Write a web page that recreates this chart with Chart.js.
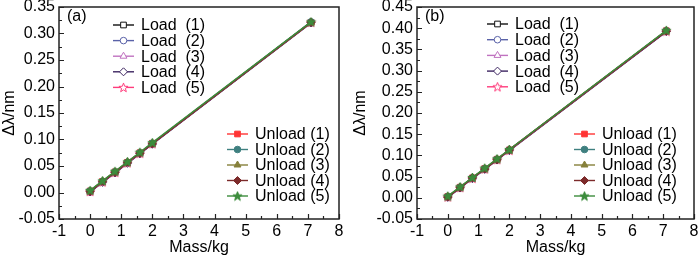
<!DOCTYPE html>
<html><head><meta charset="utf-8">
<script src="https://cdn.jsdelivr.net/npm/chart.js@4/dist/chart.umd.min.js"></script>
<style>
html,body{margin:0;padding:0;background:#fff}
#wrap{position:relative;width:700px;height:257px}
.c{position:absolute;top:0;width:350px;height:257px}
</style></head><body>
<div id="wrap">
<div class="c" style="left:0"><canvas id="ca" width="350" height="257"></canvas></div>
<div class="c" style="left:350px"><canvas id="cb" width="350" height="257"></canvas></div>
</div>
<script>
// ---- data ----
const massKg = [0, 0.4, 0.8, 1.2, 1.6, 2.0, 7.1];
const seriesNames = ['Load  (1)','Load  (2)','Load  (3)','Load  (4)','Load  (5)',
                     'Unload (1)','Unload (2)','Unload (3)','Unload (4)','Unload (5)'];
// panel (a) wavelength shift, nm
const loadA = [
  [0.002,0.020,0.038,0.056,0.074,0.092,0.321],
  [0.001,0.020,0.037,0.056,0.073,0.092,0.320],
  [0.002,0.021,0.038,0.057,0.074,0.093,0.321],
  [0.001,0.019,0.037,0.055,0.073,0.091,0.320],
  [0.002,0.020,0.038,0.056,0.074,0.092,0.321]
];
const unloadA = [
  [0.003,0.021,0.039,0.057,0.075,0.093,0.321],
  [0.003,0.021,0.039,0.057,0.075,0.093,0.322],
  [0.003,0.022,0.039,0.058,0.075,0.093,0.321],
  [0.002,0.021,0.038,0.057,0.074,0.092,0.321],
  [0.004,0.022,0.040,0.058,0.076,0.094,0.322]
];
// panel (b) wavelength shift, nm
const loadB = [
  [0.002,0.024,0.046,0.068,0.090,0.112,0.393],
  [0.001,0.023,0.046,0.067,0.089,0.112,0.392],
  [0.002,0.024,0.047,0.068,0.090,0.113,0.393],
  [0.001,0.023,0.045,0.067,0.089,0.111,0.392],
  [0.002,0.024,0.046,0.068,0.090,0.112,0.393]
];
const unloadB = [
  [0.003,0.025,0.047,0.069,0.091,0.113,0.394],
  [0.003,0.025,0.047,0.069,0.091,0.113,0.394],
  [0.003,0.025,0.048,0.069,0.091,0.114,0.394],
  [0.002,0.024,0.047,0.068,0.090,0.113,0.393],
  [0.004,0.026,0.048,0.070,0.092,0.114,0.395]
];
const yTicksA = {min:-0.05, max:0.35, step:0.05};
const yTicksB = {min:-0.05, max:0.45, step:0.05};
const xTicks = {min:-1, max:8, step:1};

// ---- styles ----
const FONT = "'Liberation Sans', Arial, sans-serif";
const FS = 16;
const colors = ['#111111','#5a62a8','#c072c0','#3c2460','#ff3c7c',
                '#ff3434','#3f8080','#86803a','#7c2a2a','#3c8c3c'];
function makeStar(fill, stroke){
  const c = document.createElement('canvas'); c.width = 11; c.height = 11;
  const g = c.getContext('2d'); g.beginPath();
  for(let i=0;i<10;i++){
    const r = i%2===0 ? 4.8 : 2.0; const a = -Math.PI/2 + i*Math.PI/5;
    const px = 5.5 + r*Math.cos(a), py = 5.9 + r*Math.sin(a);
    i===0 ? g.moveTo(px,py) : g.lineTo(px,py);
  }
  g.closePath(); g.fillStyle = fill; g.fill(); g.lineWidth = 1; g.strokeStyle = stroke; g.stroke();
  return c;
}
const styles = ['rect','circle','triangle','rectRot', makeStar('#ffffff', colors[4]),
                'rect','circle','triangle','rectRot', makeStar(colors[9], colors[9])];
const radii = [4,3.3,4,4,5,4,3.3,4,4,5];

function buildDatasets(load, unload){
  const all = load.concat(unload);
  return all.map((vals, i) => ({
    label: seriesNames[i],
    data: massKg.map((m, k) => ({x: m, y: vals[k]})),
    borderColor: colors[i],
    backgroundColor: i < 5 ? '#ffffff' : colors[i],
    pointBorderColor: colors[i],
    pointBackgroundColor: i < 5 ? '#ffffff' : colors[i],
    pointStyle: styles[i],
    pointRadius: radii[i],
    pointBorderWidth: 1,
    borderWidth: 1.4,
    tension: 0,
    order: 9 - i
  }));
}

const framePlugin = {
  id: 'frame',
  afterDatasetsDraw(chart, args, opts){
    const ctx = chart.ctx, a = chart.chartArea, xs = chart.scales.x, ys = chart.scales.y;
    ctx.save();
    ctx.strokeStyle = '#222'; ctx.lineWidth = 1.2;
    // inward ticks
    ctx.beginPath();
    for(let v = xs.min; v <= xs.max + 1e-9; v += 0.5){
      const px = Math.round(xs.getPixelForValue(v)) + 0.5;
      const major = Math.abs(v - Math.round(v)) < 1e-6;
      ctx.moveTo(px, a.bottom); ctx.lineTo(px, a.bottom - (major ? 5 : 3));
    }
    const st = opts.yStep/2;
    for(let i = 0; ys.min + i*st <= ys.max + 1e-9; i++){
      const v = ys.min + i*st;
      const py = Math.round(ys.getPixelForValue(v)) + 0.5;
      ctx.moveTo(a.left, py); ctx.lineTo(a.left + (i%2===0 ? 5 : 3), py);
    }
    ctx.stroke();
    ctx.lineWidth = 1.5; ctx.strokeStyle = '#222';
    ctx.strokeRect(a.left, a.top, a.right - a.left, a.bottom - a.top);
    // panel label
    ctx.fillStyle = '#000'; ctx.font = FS + 'px ' + FONT; ctx.textBaseline = 'middle';
    ctx.fillText(opts.panel, a.left + opts.panelDx, a.top + 10);
    // legends
    const metas = chart.data.datasets;
    opts.legends.forEach(L => {
      L.items.forEach((idx, r) => {
        const ds = metas[idx];
        const y = L.y + r * L.dy;
        ctx.strokeStyle = ds.borderColor; ctx.lineWidth = 1.4;
        ctx.beginPath(); ctx.moveTo(L.x, y); ctx.lineTo(L.x + 21, y); ctx.stroke();
        ctx.strokeStyle = ds.pointBorderColor; ctx.fillStyle = ds.pointBackgroundColor; ctx.lineWidth = 1;
        Chart.helpers.drawPoint(ctx, {pointStyle: ds.pointStyle, radius: ds.pointRadius, rotation: 0, borderWidth: 1}, L.x + 10.5, y);
        ctx.fillStyle = '#000';
        ctx.fillText(ds.label, L.x + 28, y + 1);
      });
    });
    ctx.restore();
  }
};

function makeChart(id, load, unload, yT, cfg){
  return new Chart(document.getElementById(id), {
    type: 'line',
    data: { datasets: buildDatasets(load, unload) },
    plugins: [framePlugin],
    options: {
      responsive: false, animation: false, devicePixelRatio: 1,
      layout: { padding: { left: 0, right: cfg.padRight, top: 7, bottom: 0 } },
      plugins: {
        legend: { display: false }, tooltip: { enabled: false },
        frame: { panel: cfg.panel, panelDx: 8, yStep: yT.step, legends: cfg.legends }
      },
      scales: {
        x: {
          type: 'linear', min: xTicks.min, max: xTicks.max,
          grid: { display: false, drawTicks: false }, border: { display: false },
          ticks: { stepSize: xTicks.step, autoSkip: false, padding: 3, color: '#000', maxRotation: 0,
                   font: { family: FONT, size: FS } },
          title: { display: true, text: 'Mass/kg', color: '#000', padding: 0, font: { family: FONT, size: FS } },
          afterFit(s){ s.height = 38; s.paddingLeft = 0; s.paddingRight = 0; }
        },
        y: {
          type: 'linear', min: yT.min, max: yT.max,
          grid: { display: false, drawTicks: false }, border: { display: false },
          ticks: { stepSize: yT.step, autoSkip: false, padding: 4, color: '#000',
                   font: { family: FONT, size: FS },
                   callback: v => (Math.abs(v) < 1e-9 ? 0 : Number(v)).toFixed(2) },
          title: { display: true, text: 'Δλ/nm', color: '#000', padding: {top: cfg.titlePad, bottom: 0}, font: { family: FONT, size: FS } },
          afterFit(s){ s.width = cfg.axisW; s.paddingTop = 0; s.paddingBottom = 0; }
        }
      }
    }
  });
}

makeChart('ca', loadA, unloadA, yTicksA, {
  panel: '(a)', padRight: 11, axisW: 59, titlePad: 0,
  legends: [ {x: 113, y: 25, dy: 15.6, items: [0,1,2,3,4]},
             {x: 227, y: 134, dy: 15.5, items: [5,6,7,8,9]} ]
});
makeChart('cb', loadB, unloadB, yTicksB, {
  panel: '(b)', padRight: 6, axisW: 67, titlePad: 1,
  legends: [ {x: 487, y: 24, dy: 15.7, items: [0,1,2,3,4]},
             {x: 574, y: 134, dy: 15.5, items: [5,6,7,8,9]} ].map(L => ({...L, x: L.x - 350}))
});
</script>
</body></html>
